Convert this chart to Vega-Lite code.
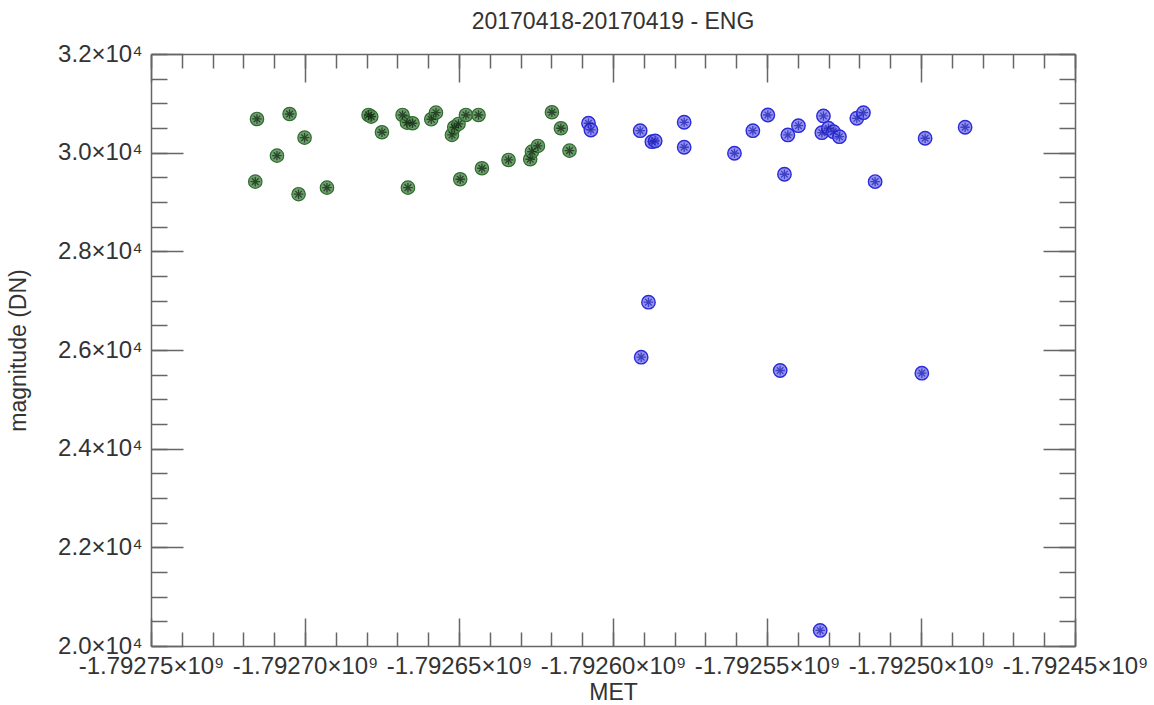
{
  "$schema": "https://vega.github.io/schema/vega-lite/v6.json",
  "width": 924,
  "height": 592,
  "autosize": {"type": "none"},
  "padding": {"left": 151, "top": 54, "right": 79, "bottom": 59},
  "background": "white",
  "title": {"text": "20170418-20170419 - ENG", "anchor": "middle", "fontSize": 23, "font": "Liberation Sans", "fontWeight": "normal", "color": "#333", "baseline": "alphabetic", "offset": -10},
  "config": {
    "view": {"stroke": null},
    "axis": {"grid": false, "labelFont": "Liberation Sans", "titleFont": "Liberation Sans", "labelFontSize": 24, "titleFontSize": 23, "titleFontWeight": "normal", "labelColor": "#333", "titleColor": "#333", "tickColor": "#666", "tickWidth": 1.5, "domainColor": "#666", "domainWidth": 1.5, "labelOverlap": false, "labelFlush": false}
  },
  "datasets": {
    "green": [
      {"met": -1792715592, "mag": 30683},
      {"met": -1792716144, "mag": 29413},
      {"met": -1792705010, "mag": 30784},
      {"met": -1792709100, "mag": 29940},
      {"met": -1792700141, "mag": 30304},
      {"met": -1792702089, "mag": 29158},
      {"met": -1792692870, "mag": 29291},
      {"met": -1792679367, "mag": 30764},
      {"met": -1792678500, "mag": 30730},
      {"met": -1792675017, "mag": 30414},
      {"met": -1792668331, "mag": 30764},
      {"met": -1792666902, "mag": 30608},
      {"met": -1792665085, "mag": 30596},
      {"met": -1792666578, "mag": 29291},
      {"met": -1792659015, "mag": 30677},
      {"met": -1792657489, "mag": 30811},
      {"met": -1792652295, "mag": 30359},
      {"met": -1792651549, "mag": 30515},
      {"met": -1792650153, "mag": 30582},
      {"met": -1792647751, "mag": 30764},
      {"met": -1792643661, "mag": 30764},
      {"met": -1792649601, "mag": 29461},
      {"met": -1792642557, "mag": 29684},
      {"met": -1792633923, "mag": 29852},
      {"met": -1792626879, "mag": 29867},
      {"met": -1792626327, "mag": 30021},
      {"met": -1792624380, "mag": 30136},
      {"met": -1792619835, "mag": 30819},
      {"met": -1792616914, "mag": 30495},
      {"met": -1792614122, "mag": 30041}
    ],
    "blue": [
      {"met": -1792607955, "mag": 30596},
      {"met": -1792607176, "mag": 30460},
      {"met": -1792591173, "mag": 30446},
      {"met": -1792587375, "mag": 30223},
      {"met": -1792586304, "mag": 30237},
      {"met": -1792576891, "mag": 30616},
      {"met": -1792576891, "mag": 30110},
      {"met": -1792560563, "mag": 29988},
      {"met": -1792554591, "mag": 30446},
      {"met": -1792549722, "mag": 30764},
      {"met": -1792543230, "mag": 30359},
      {"met": -1792539789, "mag": 30547},
      {"met": -1792544333, "mag": 29563},
      {"met": -1792531674, "mag": 30744},
      {"met": -1792532193, "mag": 30406},
      {"met": -1792530051, "mag": 30495},
      {"met": -1792528428, "mag": 30426},
      {"met": -1792526480, "mag": 30324},
      {"met": -1792520832, "mag": 30697},
      {"met": -1792518690, "mag": 30811},
      {"met": -1792514892, "mag": 29413},
      {"met": -1792498662, "mag": 30292},
      {"met": -1792485678, "mag": 30515},
      {"met": -1792588479, "mag": 26969},
      {"met": -1792590849, "mag": 25855},
      {"met": -1792545729, "mag": 25584},
      {"met": -1792499733, "mag": 25531},
      {"met": -1792532745, "mag": 20316}
    ]
  },
  "resolve": {"axis": {"x": "independent", "y": "independent"}},
  "layer": [
    {
      "data": {"name": "green"},
      "mark": {"type": "point", "shape": "circle", "size": 180, "filled": true, "fill": "#558f55", "fillOpacity": 0.85, "stroke": "#2f6a2f", "strokeWidth": 1.2},
      "encoding": {
        "x": {"field": "met", "type": "quantitative", "scale": {"domain": [-1792750000, -1792450000], "nice": false, "zero": false},
          "axis": {"orient": "bottom", "title": "MET", "values": [-1792750000, -1792700000, -1792650000, -1792600000, -1792550000, -1792500000, -1792450000], "tickSize": -28, "labelPadding": 36, "titlePadding": 3, "labelExpr": "'-' + format(-datum.value/1e9, '.5f') + '×10⁹'"}},
        "y": {"field": "mag", "type": "quantitative", "scale": {"domain": [20000, 32000], "nice": false, "zero": false},
          "axis": {"orient": "left", "title": "magnitude (DN)", "values": [20000, 22000, 24000, 26000, 28000, 30000, 32000], "tickSize": -32, "labelPadding": 41, "titlePadding": 27, "labelExpr": "format(datum.value/1e4, '.1f') + '×10⁴'"}}
      }
    },
    {
      "data": {"name": "green"},
      "mark": {"type": "point", "shape": "M-1,0L1,0M0,-1L0,1M-0.7,-0.7L0.7,0.7M-0.7,0.7L0.7,-0.7", "size": 90, "filled": false, "stroke": "#102010", "strokeWidth": 1.3},
      "encoding": {
        "x": {"field": "met", "type": "quantitative", "scale": {"domain": [-1792750000, -1792450000], "nice": false, "zero": false},
          "axis": {"orient": "bottom", "title": null, "labels": false, "domain": false, "tickSize": -14, "values": [-1792750000, -1792740000, -1792730000, -1792720000, -1792710000, -1792700000, -1792690000, -1792680000, -1792670000, -1792660000, -1792650000, -1792640000, -1792630000, -1792620000, -1792610000, -1792600000, -1792590000, -1792580000, -1792570000, -1792560000, -1792550000, -1792540000, -1792530000, -1792520000, -1792510000, -1792500000, -1792490000, -1792480000, -1792470000, -1792460000, -1792450000]}},
        "y": {"field": "mag", "type": "quantitative", "scale": {"domain": [20000, 32000], "nice": false, "zero": false},
          "axis": {"orient": "left", "title": null, "labels": false, "domain": false, "tickSize": -16, "values": [20000, 20500, 21000, 21500, 22000, 22500, 23000, 23500, 24000, 24500, 25000, 25500, 26000, 26500, 27000, 27500, 28000, 28500, 29000, 29500, 30000, 30500, 31000, 31500, 32000]}}
      }
    },
    {
      "data": {"name": "blue"},
      "mark": {"type": "point", "shape": "circle", "size": 180, "filled": true, "fill": "#7070ee", "fillOpacity": 0.75, "stroke": "#2a2ad8", "strokeWidth": 1.4},
      "encoding": {
        "x": {"field": "met", "type": "quantitative", "scale": {"domain": [-1792750000, -1792450000], "nice": false, "zero": false},
          "axis": {"orient": "top", "title": null, "labels": false, "tickSize": -28, "values": [-1792750000, -1792700000, -1792650000, -1792600000, -1792550000, -1792500000, -1792450000]}},
        "y": {"field": "mag", "type": "quantitative", "scale": {"domain": [20000, 32000], "nice": false, "zero": false},
          "axis": {"orient": "right", "title": null, "labels": false, "tickSize": -32, "values": [20000, 22000, 24000, 26000, 28000, 30000, 32000]}}
      }
    },
    {
      "data": {"name": "blue"},
      "mark": {"type": "point", "shape": "M-1,0L1,0M0,-1L0,1M-0.7,-0.7L0.7,0.7M-0.7,0.7L0.7,-0.7", "size": 90, "filled": false, "stroke": "#1c1cb0", "strokeWidth": 1.3},
      "encoding": {
        "x": {"field": "met", "type": "quantitative", "scale": {"domain": [-1792750000, -1792450000], "nice": false, "zero": false},
          "axis": {"orient": "top", "title": null, "labels": false, "domain": false, "tickSize": -14, "values": [-1792750000, -1792740000, -1792730000, -1792720000, -1792710000, -1792700000, -1792690000, -1792680000, -1792670000, -1792660000, -1792650000, -1792640000, -1792630000, -1792620000, -1792610000, -1792600000, -1792590000, -1792580000, -1792570000, -1792560000, -1792550000, -1792540000, -1792530000, -1792520000, -1792510000, -1792500000, -1792490000, -1792480000, -1792470000, -1792460000, -1792450000]}},
        "y": {"field": "mag", "type": "quantitative", "scale": {"domain": [20000, 32000], "nice": false, "zero": false},
          "axis": {"orient": "right", "title": null, "labels": false, "domain": false, "tickSize": -16, "values": [20000, 20500, 21000, 21500, 22000, 22500, 23000, 23500, 24000, 24500, 25000, 25500, 26000, 26500, 27000, 27500, 28000, 28500, 29000, 29500, 30000, 30500, 31000, 31500, 32000]}}
      }
    }
  ]
}
